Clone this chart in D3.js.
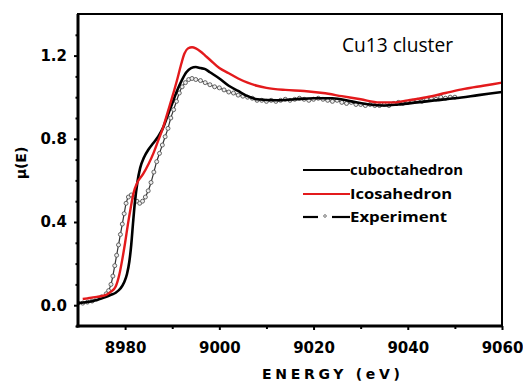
<!DOCTYPE html>
<html><head><meta charset="utf-8">
<script src="https://cdn.jsdelivr.net/npm/d3@7"></script>
<style>body{margin:0;background:#fff}svg{display:block}</style>
</head><body>
<svg id="c" width="523" height="381"></svg>
<script>
const xMajor = [8980, 9000, 9020, 9040, 9060];
const xMinor = [8990, 9010, 9030, 9050];
const yMajor = [0.0, 0.4, 0.8, 1.2];
const yMinor = [-0.1, 0.1, 0.2, 0.3, 0.5, 0.6, 0.7, 0.9, 1.0, 1.1, 1.3];

const icoE = [8971,8972,8974,8976,8977,8978,8978.8,8979.4,8980,8980.6,8981.2,8981.8,8982.6,8983.8,8985,8986,8987,8988,8989,8990,8991,8991.8,8992.6,8993.4,8994.2,8995,8996,8997,8998,9000,9002,9004,9006,9008,9010,9014,9018,9022,9026,9030,9034,9037,9040,9044,9048,9052,9056,9060];
const icoMu = [0.03,0.033,0.04,0.05,0.065,0.09,0.15,0.22,0.3,0.39,0.47,0.54,0.59,0.63,0.68,0.73,0.79,0.85,0.925,1.0,1.08,1.15,1.21,1.235,1.24,1.235,1.22,1.2,1.18,1.14,1.115,1.09,1.07,1.055,1.045,1.035,1.03,1.02,1.005,0.99,0.975,0.975,0.985,1.0,1.02,1.04,1.055,1.07];

const cubE = [8970,8972,8974,8976,8977,8978,8979,8979.8,8980.4,8980.9,8981.3,8981.7,8982.1,8982.6,8983.2,8984,8985,8986,8987,8988,8989,8990,8991,8992,8993,8994,8995,8996,8997,8998,9000,9002,9004,9006,9008,9012,9016,9020,9024,9028,9032,9035,9038,9042,9046,9050,9055,9060];
const cubMu = [0.01,0.015,0.025,0.04,0.05,0.06,0.08,0.11,0.15,0.21,0.29,0.4,0.5,0.59,0.66,0.71,0.75,0.78,0.81,0.85,0.91,0.97,1.03,1.08,1.12,1.14,1.145,1.14,1.135,1.12,1.09,1.055,1.03,1.005,0.99,0.985,0.99,0.995,0.995,0.98,0.965,0.96,0.965,0.975,0.985,0.995,1.01,1.025];

const expE = [8970,8971,8972,8973,8974,8975,8976,8976.5,8977,8977.4,8977.8,8978.2,8978.6,8979,8979.4,8979.8,8980.2,8980.7,8981.3,8981.9,8982.5,8983.1,8983.7,8984.3,8984.9,8985.5,8986.1,8986.7,8987.3,8987.9,8988.5,8989.1,8989.7,8990.3,8990.9,8991.5,8992.1,8992.8,8993.5,8994.2,8995,8996,8997,8998,8999,9000,9001,9002,9003,9004,9005,9006,9007,9008,9009,9010,9011,9012,9013,9014,9015,9016,9017,9018,9019,9020,9021,9022,9023,9024,9025,9026,9027,9028,9029,9030,9031,9032,9033,9034,9035,9036,9037,9038,9039,9040,9041,9042,9043,9044,9045,9046,9047,9048,9049,9050];
const expMu = [0.01,0.01,0.015,0.02,0.03,0.04,0.055,0.07,0.1,0.14,0.19,0.24,0.29,0.34,0.39,0.44,0.49,0.52,0.53,0.52,0.5,0.49,0.5,0.52,0.55,0.59,0.64,0.69,0.73,0.77,0.81,0.85,0.9,0.94,0.98,1.02,1.05,1.07,1.085,1.09,1.085,1.08,1.07,1.06,1.05,1.045,1.035,1.025,1.02,1.01,1.005,1.0,0.995,0.985,0.985,0.98,0.985,0.98,0.985,0.99,0.985,0.99,0.995,0.99,0.985,0.99,0.995,0.99,0.985,0.98,0.985,0.975,0.97,0.975,0.965,0.965,0.96,0.965,0.96,0.96,0.965,0.96,0.97,0.975,0.97,0.975,0.98,0.985,0.98,0.99,0.995,0.99,1.0,0.995,1.0,1.0];

const legendLabels = ["cuboctahedron", "Icosahedron", "Experiment"];

const svg = d3.select("#c");
const L = 78, R = 502, T = 14, B = 326;
const x = d3.scaleLinear().domain([8970, 9060]).range([L, R]);
const y = d3.scaleLinear().domain([-0.1, 1.4]).range([B, T]);

svg.append("defs").append("clipPath").attr("id", "clip")
  .append("rect").attr("x", L).attr("y", T).attr("width", R - L).attr("height", B - T);

const tickFont = "'DejaVu Sans', Verdana, sans-serif";

// Axes
const gx = svg.append("g").attr("transform", `translate(0,${B})`)
  .call(d3.axisBottom(x).tickValues(xMajor).tickSize(4).tickPadding(12).tickFormat(d3.format("d")));
const gxm = svg.append("g").attr("transform", `translate(0,${B})`)
  .call(d3.axisBottom(x).tickValues(xMinor).tickSize(3).tickFormat(""));
const gy = svg.append("g").attr("transform", `translate(${L},0)`)
  .call(d3.axisLeft(y).tickValues(yMajor).tickSize(4).tickPadding(7).tickFormat(d3.format(".1f")));
const gym = svg.append("g").attr("transform", `translate(${L},0)`)
  .call(d3.axisLeft(y).tickValues(yMinor).tickSize(2.5).tickFormat(""));
[gx, gxm, gy, gym].forEach(g => {
  g.select(".domain").remove();
  g.selectAll(".tick line").attr("stroke", "#000").attr("stroke-width", 2);
  g.selectAll(".tick text").attr("fill", "#000").style("font-family", tickFont)
    .style("font-weight", "bold").style("font-size", "15px");
});

// Curves
const line = d3.line().x(d => x(d[0])).y(d => y(d[1])).curve(d3.curveMonotoneX);
const plot = svg.append("g").attr("clip-path", "url(#clip)");

const expData = expE.map((e, i) => [e, expMu[i]]);
plot.append("path").datum(expData).attr("d", line)
  .attr("fill", "none").attr("stroke", "#333").attr("stroke-width", 1.2);
plot.append("g").selectAll("circle").data(expData).join("circle")
  .attr("cx", d => x(d[0])).attr("cy", d => y(d[1])).attr("r", 2)
  .attr("fill", "#eee").attr("stroke", "#555").attr("stroke-width", 0.9);

plot.append("path").datum(cubE.map((e, i) => [e, cubMu[i]])).attr("d", line)
  .attr("fill", "none").attr("stroke", "#000").attr("stroke-width", 2.6);
plot.append("path").datum(icoE.map((e, i) => [e, icoMu[i]])).attr("d", line)
  .attr("fill", "none").attr("stroke", "#e31a1c").attr("stroke-width", 2.4);

// Frame
svg.append("rect").attr("x", L).attr("y", T).attr("width", R - L).attr("height", B - T)
  .attr("fill", "none").attr("stroke", "#000").attr("stroke-width", 2);
svg.append("line").attr("x1", L).attr("x2", L).attr("y1", T).attr("y2", B + 1.5)
  .attr("stroke", "#000").attr("stroke-width", 3);
svg.append("line").attr("x1", L - 1.5).attr("x2", R + 1).attr("y1", B).attr("y2", B)
  .attr("stroke", "#000").attr("stroke-width", 3);

// Title
svg.append("text").attr("x", 342).attr("y", 52).text("Cu13 cluster")
  .attr("textLength", 111).attr("lengthAdjust", "spacingAndGlyphs")
  .style("font-family", "'Open Sans', sans-serif").style("font-size", "20px").attr("fill", "#000");

// Legend
const lg = svg.append("g");
const rows = [170, 194, 217];
lg.append("line").attr("x1", 303).attr("x2", 350).attr("y1", rows[0]).attr("y2", rows[0])
  .attr("stroke", "#000").attr("stroke-width", 2.2);
lg.append("line").attr("x1", 303).attr("x2", 350).attr("y1", rows[1]).attr("y2", rows[1])
  .attr("stroke", "#e31a1c").attr("stroke-width", 2.2);
lg.append("line").attr("x1", 303).attr("x2", 318).attr("y1", rows[2]).attr("y2", rows[2])
  .attr("stroke", "#000").attr("stroke-width", 2.2);
lg.append("line").attr("x1", 332).attr("x2", 350).attr("y1", rows[2]).attr("y2", rows[2])
  .attr("stroke", "#000").attr("stroke-width", 2.2);
lg.append("circle").attr("cx", 325).attr("cy", rows[2] - 1).attr("r", 1.3)
  .attr("fill", "#fff").attr("stroke", "#555").attr("stroke-width", 0.8);
const widths = [113, 102, 97];
legendLabels.forEach((t, i) => {
  lg.append("text").attr("x", 350).attr("y", rows[i] + 5).text(t)
    .attr("textLength", widths[i]).attr("lengthAdjust", "spacingAndGlyphs")
    .style("font-family", "'Open Sans', sans-serif").style("font-weight", "bold")
    .style("font-size", "15px").attr("fill", "#000");
});

// Axis titles
svg.append("text").attr("transform", "translate(26,163) rotate(-90)")
  .attr("text-anchor", "middle").text("μ(E)")
  .style("font-family", tickFont).style("font-weight", "bold").style("font-size", "14px").attr("fill", "#000");
svg.append("text").attr("x", 262).attr("y", 379).text("ENERGY (eV)")
  .attr("textLength", 138).attr("lengthAdjust", "spacing")
  .style("font-family", tickFont).style("font-weight", "bold").style("font-size", "14px").attr("fill", "#000");
</script>
</body></html>
